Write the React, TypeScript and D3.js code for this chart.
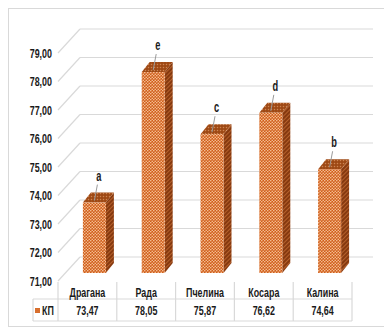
import React from "react";
import * as d3 from "d3";

const categories = ["Драгана", "Рада", "Пчелина", "Косара", "Калина"];
const values = [73.47, 78.05, 75.87, 76.62, 74.64];
const letters = ["a", "e", "c", "d", "b"];
const seriesName = "КП";
const yTicks = [71, 72, 73, 74, 75, 76, 77, 78, 79];

const W = 384;
const H = 328;
const FONT = "'Liberation Sans', Arial, sans-serif";
const SX = 0.66;

const fmt = (v: number) => d3.format(".2f")(v).replace(".", ",");

function T(props: {
  x: number;
  y: number;
  anchor?: string;
  size?: number;
  weight?: string | number;
  children: React.ReactNode;
}) {
  const { x, y, anchor = "middle", size = 13.5, weight = "bold", children } = props;
  return (
    <text
      transform={`translate(${x},${y}) scale(${SX},1)`}
      textAnchor={anchor}
      dy="0.35em"
      fontFamily={FONT}
      fontSize={size}
      fontWeight={weight}
      fill="#1a1a1a"
    >
      {children}
    </text>
  );
}

export default function App() {
  const x = d3.scaleBand<string>().domain(categories).range([58, 352]).padding(0);
  const y = d3.scaleLinear().domain([71, 80]).range([281, 24.5]);
  const bw = x.bandwidth();

  const backDx = 22, backDy = -24;
  const barDx = 7, barDy = -8;
  const depDx = 8, depDy = -10;
  const faceW = 23;

  const gridRight = 373;

  return (
    <svg
      width={W}
      height={H}
      style={{ position: "absolute", left: 0, top: 0, background: "#fff" }}
    >
      <defs>
        <pattern id="pFront" width="3" height="3" patternUnits="userSpaceOnUse">
          <rect width="3" height="3" fill="#CF5E1A" />
          <circle cx="0.75" cy="0.75" r="0.8" fill="#F7C29A" />
          <circle cx="2.25" cy="2.25" r="0.8" fill="#F7C29A" />
        </pattern>
        <pattern id="pSide" width="3" height="3" patternUnits="userSpaceOnUse" patternTransform="rotate(45)">
          <rect width="3" height="3" fill="#86390F" />
          <rect width="1" height="3" fill="#B5612C" />
        </pattern>
        <pattern id="pTop" width="3" height="3" patternUnits="userSpaceOnUse">
          <rect width="3" height="3" fill="#9E4915" />
          <circle cx="1.5" cy="1.5" r="0.75" fill="#CF8552" />
        </pattern>
        <pattern id="pLegend" width="2" height="2" patternUnits="userSpaceOnUse">
          <rect width="2" height="2" fill="#D2621E" />
          <circle cx="1" cy="1" r="0.5" fill="#F2A771" />
        </pattern>
      </defs>

      <rect x={8.5} y={8.5} width={W + 10} height={318} fill="none" stroke="#d9d9d9" />

      {yTicks.map((t) => (
        <g key={t}>
          <line
            x1={58 + backDx}
            x2={gridRight}
            y1={y(t) + backDy}
            y2={y(t) + backDy}
            stroke="#d9d9d9"
            strokeWidth={1.2}
          />
          <line
            x1={58}
            y1={y(t)}
            x2={58 + backDx}
            y2={y(t) + backDy}
            stroke="#d9d9d9"
            strokeWidth={1.2}
          />
          <T x={52} y={y(t)} anchor="end">
            {fmt(t)}
          </T>
        </g>
      ))}

      {categories.map((c, i) => {
        const v = values[i];
        const cx = (x(c) as number) + bw / 2 + barDx;
        const x0 = cx - faceW / 2;
        const x1 = cx + faceW / 2;
        const yTop = y(v) + barDy;
        const yBot = y(71) + barDy;
        const side = `M${x1},${yTop} L${x1 + depDx},${yTop + depDy} L${x1 + depDx},${yBot + depDy} L${x1},${yBot} Z`;
        const top = `M${x0},${yTop} L${x0 + depDx},${yTop + depDy} L${x1 + depDx},${yTop + depDy} L${x1},${yTop} Z`;
        return (
          <g key={c}>
            <path d={side} fill="url(#pSide)" />
            <path d={top} fill="url(#pTop)" />
            <rect x={x0} y={yTop} width={faceW} height={yBot - yTop} fill="url(#pFront)" />
            <line x1={cx + 3} y1={yTop - 18} x2={cx} y2={yTop - 2} stroke="#9a9a9a" strokeWidth={1} />
            <T x={cx + 4.5} y={yTop - 27} size={14}>
              {letters[i]}
            </T>
          </g>
        );
      })}

      <g stroke="#d9d9d9" strokeWidth={1.2} fill="none">
        <line x1={33} x2={352} y1={299} y2={299} />
        <line x1={33} x2={352} y1={321} y2={321} />
        <line x1={33} x2={33} y1={299} y2={321} />
        {[...categories.map((c) => x(c) as number), 352].map((xx, i) => (
          <line key={i} x1={xx} x2={xx} y1={282} y2={321} />
        ))}
      </g>
      {categories.map((c, i) => (
        <g key={c}>
          <T x={(x(c) as number) + bw / 2} y={292}>
            {c}
          </T>
          <T x={(x(c) as number) + bw / 2} y={310.5}>
            {fmt(values[i])}
          </T>
        </g>
      ))}
      <rect x={35} y={308} width={5} height={5} fill="url(#pLegend)" />
      <T x={42} y={310.5} anchor="start">
        {seriesName}
      </T>
    </svg>
  );
}
